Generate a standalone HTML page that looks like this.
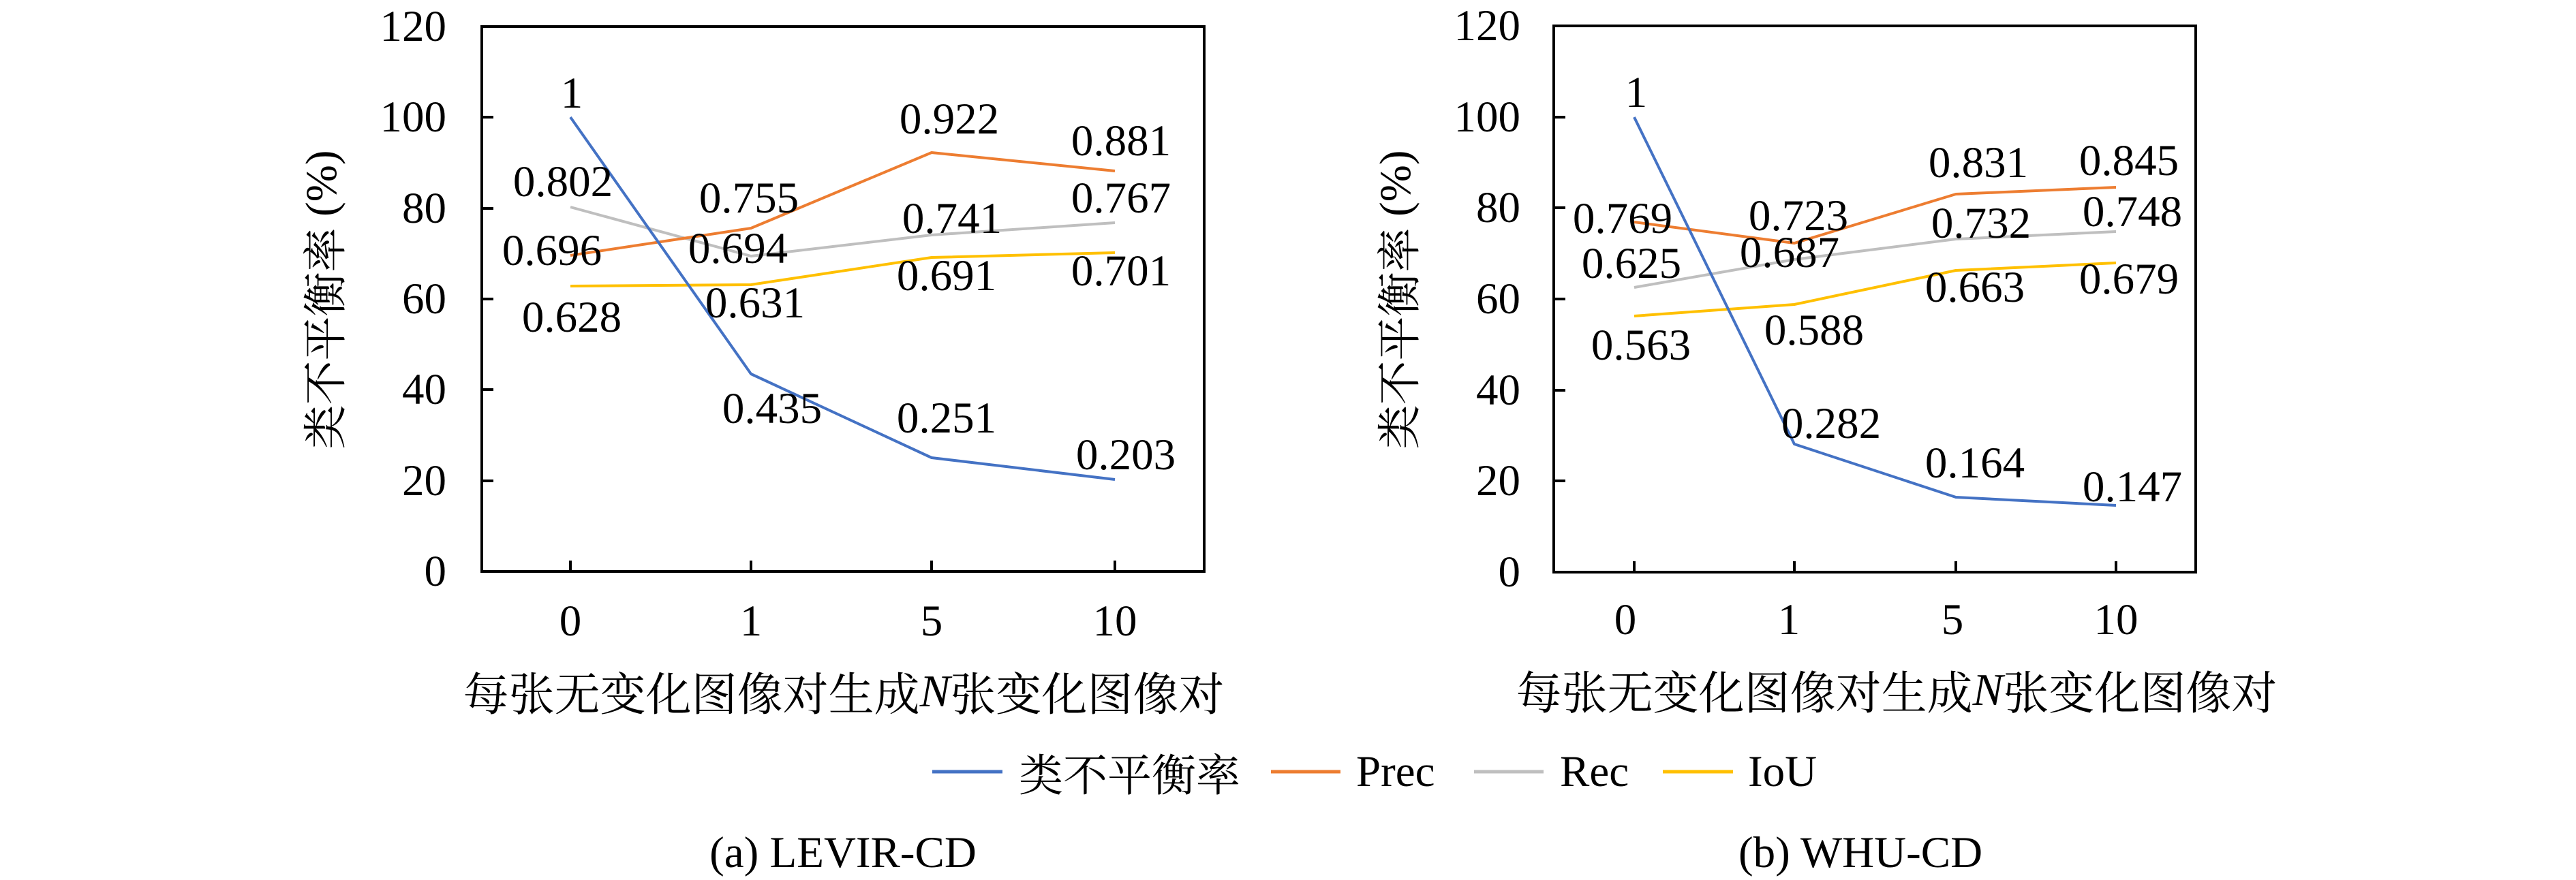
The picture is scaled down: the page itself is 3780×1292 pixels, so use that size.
<!DOCTYPE html>
<html><head><meta charset="utf-8"><style>
html,body{margin:0;padding:0;background:#fff;}
svg{display:block;}
text{font-family:"Liberation Serif","Noto Serif CJK SC",serif;fill:#000;}
.cjk{font-family:"Noto Serif CJK SC","Liberation Serif",serif;}
.cjk tspan{font-family:"Liberation Serif",serif;}
</style></head><body>
<svg width="3780" height="1292" viewBox="0 0 3780 1292" xmlns="http://www.w3.org/2000/svg">
<!-- LEFT CHART -->
<g>
<rect x="707" y="39" width="1060" height="800" fill="none" stroke="#000" stroke-width="4"/>
<g stroke="#000" stroke-width="4">
<line x1="707" y1="172" x2="724" y2="172"/><line x1="707" y1="306" x2="724" y2="306"/>
<line x1="707" y1="439" x2="724" y2="439"/><line x1="707" y1="572" x2="724" y2="572"/>
<line x1="707" y1="706" x2="724" y2="706"/>
<line x1="837" y1="839" x2="837" y2="823"/><line x1="1102" y1="839" x2="1102" y2="823"/>
<line x1="1367" y1="839" x2="1367" y2="823"/><line x1="1636" y1="839" x2="1636" y2="823"/>
</g>
<g font-size="65" text-anchor="end" dominant-baseline="central">
<text x="655" y="39">120</text><text x="655" y="172">100</text><text x="655" y="306">80</text>
<text x="655" y="439">60</text><text x="655" y="572">40</text><text x="655" y="706">20</text><text x="655" y="839">0</text>
</g>
<g font-size="65" text-anchor="middle" dominant-baseline="central">
<text x="837" y="912">0</text><text x="1102" y="912">1</text><text x="1367" y="912">5</text><text x="1636" y="912">10</text>
</g>
<text class="cjk" x="1238" y="1015" font-size="67" text-anchor="middle" dominant-baseline="central">每张无变化图像对生成<tspan font-style="italic">N</tspan>张变化图像对</text>
<text class="cjk" transform="translate(472,440) rotate(-90)" font-size="65" text-anchor="middle" dominant-baseline="central">类不平衡率 <tspan>(%)</tspan></text>
<g fill="none" stroke-width="4" stroke-linejoin="round">
<polyline stroke="#BFBFBF" points="837,304 1102,376 1367,345 1636,327"/>
<polyline stroke="#FFC000" points="837,420 1102,418 1367,378 1636,371"/>
<polyline stroke="#ED7D31" points="837,375 1102,335 1367,224 1636,251"/>
<polyline stroke="#4472C4" points="837,172 1102,549 1367,672 1636,704"/>
</g>
<g font-size="65" text-anchor="middle" dominant-baseline="central">
<text x="839" y="137">1</text><text x="826" y="267">0.802</text><text x="810" y="368">0.696</text><text x="839" y="466">0.628</text>
<text x="1099" y="291">0.755</text><text x="1083" y="365">0.694</text><text x="1108" y="445">0.631</text><text x="1133" y="600">0.435</text>
<text x="1393" y="175">0.922</text><text x="1397" y="321">0.741</text><text x="1389" y="405">0.691</text><text x="1389" y="614">0.251</text>
<text x="1645" y="207">0.881</text><text x="1645" y="291">0.767</text><text x="1645" y="398">0.701</text><text x="1652" y="668">0.203</text>
</g>
<text x="1237" y="1252" font-size="65" text-anchor="middle" dominant-baseline="central">(a) LEVIR-CD</text>
</g>

<!-- RIGHT CHART -->
<g>
<rect x="2280" y="38" width="942" height="802" fill="none" stroke="#000" stroke-width="4"/>
<g stroke="#000" stroke-width="4">
<line x1="2280" y1="172" x2="2297" y2="172"/><line x1="2280" y1="305" x2="2297" y2="305"/>
<line x1="2280" y1="439" x2="2297" y2="439"/><line x1="2280" y1="573" x2="2297" y2="573"/>
<line x1="2280" y1="706" x2="2297" y2="706"/>
<line x1="2398" y1="840" x2="2398" y2="824"/><line x1="2633" y1="840" x2="2633" y2="824"/>
<line x1="2870" y1="840" x2="2870" y2="824"/><line x1="3105" y1="840" x2="3105" y2="824"/>
</g>
<g font-size="65" text-anchor="end" dominant-baseline="central">
<text x="2231" y="38">120</text><text x="2231" y="172">100</text><text x="2231" y="305">80</text>
<text x="2231" y="439">60</text><text x="2231" y="573">40</text><text x="2231" y="706">20</text><text x="2231" y="840">0</text>
</g>
<g font-size="65" text-anchor="middle" dominant-baseline="central">
<text x="2385" y="910">0</text><text x="2625" y="910">1</text><text x="2865" y="910">5</text><text x="3105" y="910">10</text>
</g>
<text class="cjk" x="2783" y="1013" font-size="67" text-anchor="middle" dominant-baseline="central">每张无变化图像对生成<tspan font-style="italic">N</tspan>张变化图像对</text>
<text class="cjk" transform="translate(2048,440) rotate(-90)" font-size="65" text-anchor="middle" dominant-baseline="central">类不平衡率 <tspan>(%)</tspan></text>
<g fill="none" stroke-width="4" stroke-linejoin="round">
<polyline stroke="#BFBFBF" points="2398,422 2633,381 2870,351 3105,340"/>
<polyline stroke="#FFC000" points="2398,464 2633,447 2870,397 3105,386"/>
<polyline stroke="#ED7D31" points="2398,326 2633,357 2870,285 3105,275"/>
<polyline stroke="#4472C4" points="2398,172 2633,652 2870,730 3105,742"/>
</g>
<g font-size="65" text-anchor="middle" dominant-baseline="central">
<text x="2401" y="136">1</text><text x="2381" y="321">0.769</text><text x="2394" y="387">0.625</text><text x="2408" y="507">0.563</text>
<text x="2639" y="317">0.723</text><text x="2626" y="371">0.687</text><text x="2662" y="485">0.588</text><text x="2687" y="622">0.282</text>
<text x="2903" y="239">0.831</text><text x="2907" y="328">0.732</text><text x="2898" y="422">0.663</text><text x="2898" y="680">0.164</text>
<text x="3124" y="236">0.845</text><text x="3129" y="311">0.748</text><text x="3124" y="410">0.679</text><text x="3129" y="715">0.147</text>
</g>
<text x="2730" y="1252" font-size="65" text-anchor="middle" dominant-baseline="central">(b) WHU-CD</text>
</g>

<!-- LEGEND -->
<g stroke-width="5">
<line x1="1368" y1="1133" x2="1471" y2="1133" stroke="#4472C4"/>
<line x1="1865" y1="1133" x2="1967" y2="1133" stroke="#ED7D31"/>
<line x1="2163" y1="1133" x2="2265" y2="1133" stroke="#BFBFBF"/>
<line x1="2440" y1="1133" x2="2543" y2="1133" stroke="#FFC000"/>
</g>
<g font-size="65" dominant-baseline="central">
<text class="cjk" x="1495" y="1133">类不平衡率</text>
<text x="1990" y="1133">Prec</text>
<text x="2289" y="1133">Rec</text>
<text x="2565" y="1133">IoU</text>
</g>
</svg>
</body></html>
